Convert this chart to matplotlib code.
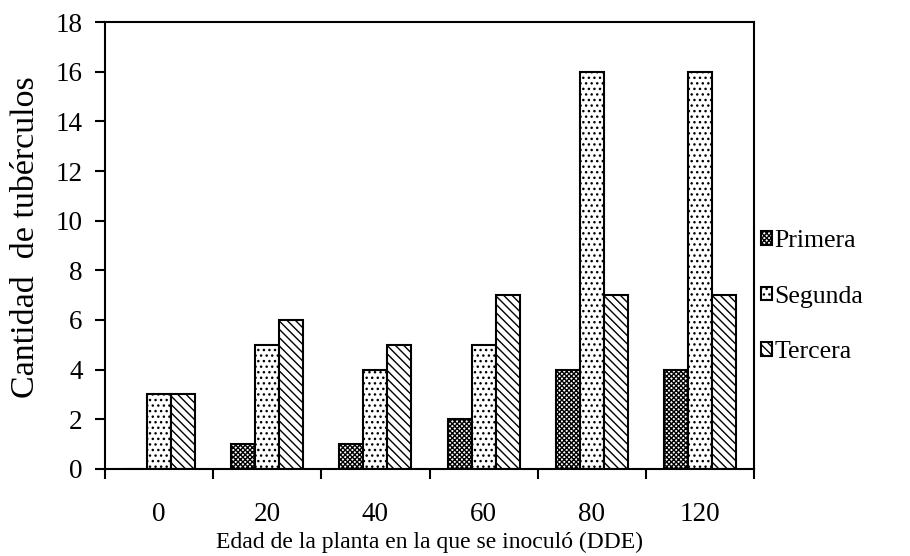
import numpy as np
import matplotlib.pyplot as plt

plt.rcParams['font.family'] = ['Liberation Serif', 'DejaVu Serif']
plt.rcParams['hatch.linewidth'] = 1.0

# data
edades = ['0', '20', '40', '60', '80', '120']
primera = [0, 1, 1, 2, 4, 4]
segunda = [3, 5, 4, 5, 16, 16]
tercera = [3, 6, 5, 7, 7, 7]
series = [['Primera', primera, 'xxxxxxx'],
          ['Segunda', segunda, '...'],
          ['Tercera', tercera, '\\\\\\\\']]

fig = plt.figure(figsize=(9.1, 5.56), dpi=100)
ax = fig.add_axes([0.1154, 0.1565, 0.7132, 0.8039])

x = np.arange(len(edades))
width = 0.222
for i, s in enumerate(series):
    ax.bar(x + (i - 1) * width, s[1], width, color='white', edgecolor='black',
           linewidth=1.5, hatch=s[2], label=s[0])

ax.set_xlim(-0.5, len(edades) - 0.5)
ax.set_ylim(0, 18)
ax.set_yticks(np.arange(0, 19, 2))

# ticks at the boundaries, labels at the centres
ax.set_xticks(np.arange(-0.5, len(edades), 1))
ax.set_xticklabels([])
ax.set_xticks(x, minor=True)
ax.set_xticklabels(edades, minor=True)
ax.tick_params(axis='x', which='major', direction='out', length=7, width=1.5)
ax.tick_params(axis='x', which='minor', length=0, pad=24, labelsize=19.5)
ax.tick_params(axis='y', direction='out', length=7, width=1.5, labelsize=19.5, pad=9)

for sp in ax.spines.values():
    sp.set_linewidth(1.5)

ax.set_ylabel('Cantidad  de tubérculos', fontsize=24.5)
ax.yaxis.set_label_coords(-0.099, 0.518)
ax.set_xlabel('Edad de la planta en la que se inoculó (DDE)', fontsize=17, labelpad=3)

fig.legend(loc='upper left', bbox_to_anchor=(0.822, 0.609), frameon=False,
           fontsize=18.5, handlelength=0.45, handleheight=0.45, handletextpad=0.08,
           labelspacing=1.30, borderpad=0)

fig.savefig('out.png', dpi=100)
